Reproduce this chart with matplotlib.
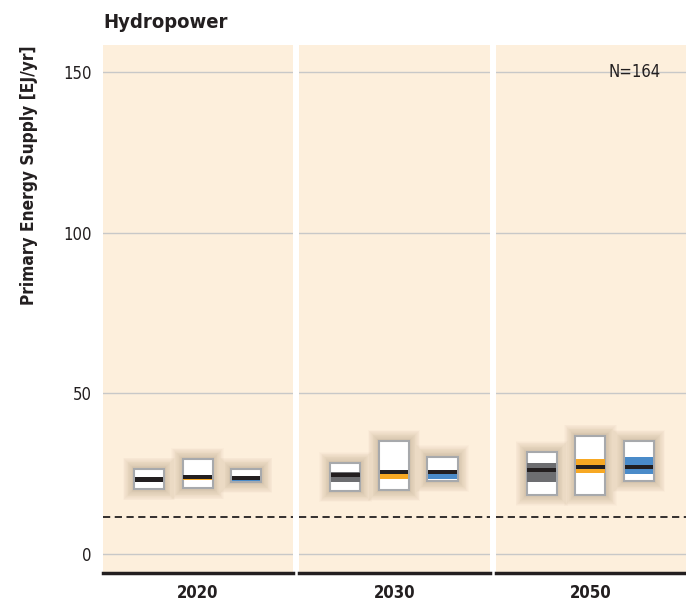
import numpy as np
import matplotlib.pyplot as plt
from matplotlib.patches import Rectangle

plt.rcParams['font.family'] = ['DejaVu Sans']
plt.rcParams['font.stretch'] = 'condensed'

years = ['2020', '2030', '2050']
# per year: [gray, orange, blue] scenario groups
hi = [[26.5, 29.6, 26.5], [28.3, 35.2, 30.3], [31.7, 36.8, 35.2]]
lo = [[20.2, 20.5, 22.4], [19.6, 19.9, 22.7], [18.4, 18.4, 22.7]]
q75 = [[23.7, 24.3, 24.0], [25.5, 26.2, 25.0], [28.3, 29.6, 30.3]]
q25 = [[22.7, 23.0, 22.7], [22.4, 23.4, 23.4], [22.4, 25.2, 24.9]]
med = [[23.2, 24.0, 23.7], [24.6, 25.5, 25.5], [26.2, 27.1, 27.1]]
ref_line = 11.5
n_label = 'N=164'

band_cols = ['#6d6e71', '#f7a823', '#4a8bc9']
bg = '#fdefdc'

fig = plt.figure(figsize=(6.86, 6.06), dpi=100)
gs = fig.add_gridspec(1, 3, left=0.150, right=1.0, top=0.926, bottom=0.054, wspace=0.032)
axes = [fig.add_subplot(gs[0, i]) for i in range(3)]

xs = np.array([0, 1, 2])
w = 0.62
for j, ax in enumerate(axes):
    ax.set_facecolor(bg)
    ax.set_xlim(-0.95, 2.97)
    ax.set_ylim(-6, 158.5)
    for yv in [0, 50, 100, 150]:
        ax.axhline(yv, color='#c8c8c8', lw=1, zorder=1)
    ax.axhline(ref_line, color='#231f20', lw=1.3, ls=(0, (4, 2.5)), zorder=5)
    for i in range(3):
        x0 = xs[i] - w / 2
        # soft shadow
        for k in range(14):
            dx = 0.0206 * (k + 1) * 0.8
            dy = 0.311 * (k + 1) * 0.8
            ax.add_patch(Rectangle((x0 - dx, lo[j][i] - dy), w + 2 * dx, hi[j][i] - lo[j][i] + 2 * dy,
                                   facecolor='#6b4a2a', edgecolor='none', alpha=0.02, zorder=2))
        ax.bar(xs[i], hi[j][i] - lo[j][i], bottom=lo[j][i], width=w, color='white',
               edgecolor='#a7a9ac', lw=1.5, zorder=3)
        ax.bar(xs[i], q75[j][i] - q25[j][i], bottom=q25[j][i], width=w - 0.03,
               color=band_cols[i], zorder=4)
        ax.bar(xs[i], 1.3, bottom=med[j][i] - 0.65, width=w - 0.03, color='#231f20', zorder=4)
    for s in ['top', 'right', 'left']:
        ax.spines[s].set_visible(False)
    ax.spines['bottom'].set_linewidth(2.5)
    ax.spines['bottom'].set_color('#231f20')
    ax.set_xticks([1.01])
    ax.set_xticklabels([years[j]], fontsize=12, fontweight='bold', color='#231f20')
    ax.tick_params(axis='x', length=0, pad=8)
    ax.set_yticks([0, 50, 100, 150])
    if j == 0:
        ax.spines['left'].set_linewidth(2.2)
        ax.spines['left'].set_color('#231f20')
        ax.tick_params(axis='y', length=0, labelsize=12, pad=8, labelcolor='#231f20')
        ax.set_ylabel('Primary Energy Supply [EJ/yr]', fontsize=12.4, fontweight='bold',
                      color='#231f20')
        ax.yaxis.set_label_coords(-0.342, 0.754)
    else:
        ax.tick_params(axis='y', length=0, labelleft=False)

axes[2].text(1.91, 150, n_label, ha='center', va='center', fontsize=12, color='#231f20')
fig.text(0.150, 0.963, 'Hydropower', ha='left', va='center', fontsize=14.5, fontweight='bold',
         color='#231f20')

fig.savefig('out.png', dpi=100, facecolor='white')
